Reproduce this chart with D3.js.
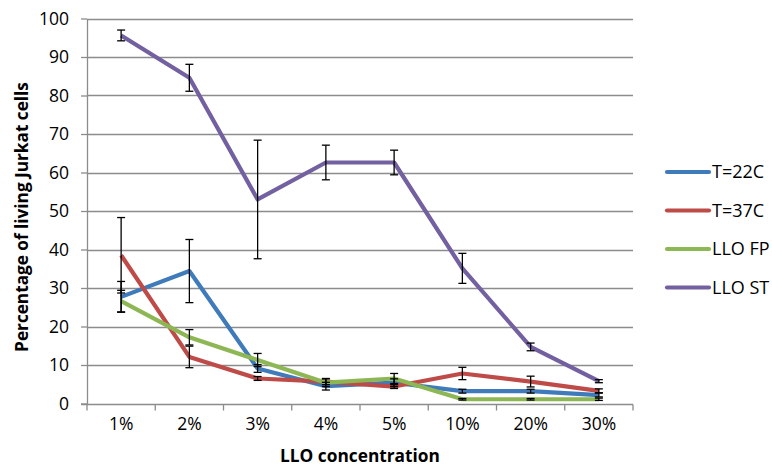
<!DOCTYPE html>
<html>
<head>
<meta charset="utf-8">
<script src="https://cdn.jsdelivr.net/npm/d3@7"></script>
<style>
  body { margin: 0; background: #fff; }
  text { font-family: "Open Sans", "Liberation Sans", sans-serif; }
</style>
</head>
<body>
<svg id="chart" width="772" height="466"></svg>
<script>
// Jurkat cell survival vs LLO concentration

const categories = ['1%', '2%', '3%', '4%', '5%', '10%', '20%', '30%'];
const seriesNames = ['T=22C', 'T=37C', 'LLO FP', 'LLO ST'];
const seriesColors = ['#3F7BBA', '#BE4B48', '#8DB654', '#7360A0'];

const t22 = [27.7, 34.4, 9.1, 4.5, 5.4, 3.2, 3.2, 2.2];
const t22Err = [4, 8.2, 1.0, 1.0, 1.0, 0.5, 0.5, 0.5];
const t37 = [38.5, 12.1, 6.5, 5.7, 4.4, 7.8, 5.7, 3.3];
const t37Err = [9.8, 2.8, 0.5, 0.8, 0.5, 1.6, 1.4, 0.5];
const lloFP = [26.6, 17.2, 11.3, 5.4, 6.5, 1.1, 1.1, 1.1];
const lloFPErr = [2.8, 2.0, 1.7, 1.0, 1.3, 0.2, 0.2, 0.3];
const lloST = [95.6, 84.6, 53.0, 62.6, 62.6, 35.1, 14.7, 5.8];
const lloSTErr = [1.4, 3.5, 15.4, 4.5, 3.2, 3.9, 1.0, 0.4];

const yTicks = [0, 10, 20, 30, 40, 50, 60, 70, 80, 90, 100];

const allValues = [t22, t37, lloFP, lloST];
const allErrors = [t22Err, t37Err, lloFPErr, lloSTErr];

const svg = d3.select('#chart');
const margin = { top: 18, left: 87, right: 139, bottom: 62 };
const width = 772, height = 466;

const x = d3.scaleBand()
    .domain(categories)
    .range([margin.left, width - margin.right]);

const y = d3.scaleLinear()
    .domain([0, 100])
    .range([height - margin.bottom - 0.5, margin.top + 0.5]);

// Gridlines
svg.append('g')
    .selectAll('line')
    .data(yTicks.filter(d => d > 0))
    .enter()
    .append('line')
    .attr('x1', margin.left)
    .attr('x2', width - margin.right)
    .attr('y1', d => Math.round(y(d)) + 0.5)
    .attr('y2', d => Math.round(y(d)) + 0.5)
    .attr('stroke', '#8c8c8c')
    .attr('stroke-width', 1.3);

// Y axis
const yAxis = svg.append('g')
    .attr('transform', `translate(${margin.left},0)`)
    .call(d3.axisLeft(y).tickValues(yTicks).tickSize(6).tickSizeOuter(0));
yAxis.select('.domain').attr('stroke', '#8c8c8c').attr('stroke-width', 1.3);
yAxis.selectAll('.tick line').attr('stroke', '#8c8c8c').attr('stroke-width', 1.3);
yAxis.selectAll('.tick text')
    .attr('x', -18)
    .attr('font-size', '17.5px')
    .attr('fill', '#000')
    .style('font-family', '"Open Sans", sans-serif');

// X axis with ticks between categories
const xAxisY = Math.round(y(0)) + 0.5;
const xg = svg.append('g');
xg.append('line')
    .attr('x1', margin.left - 6)
    .attr('x2', width - margin.right)
    .attr('y1', xAxisY)
    .attr('y2', xAxisY)
    .attr('stroke', '#8c8c8c')
    .attr('stroke-width', 1.3);
xg.selectAll('.xtick')
    .data(categories.concat(['end']))
    .enter()
    .append('line')
    .attr('x1', (d, i) => margin.left + i * x.bandwidth())
    .attr('x2', (d, i) => margin.left + i * x.bandwidth())
    .attr('y1', xAxisY)
    .attr('y2', xAxisY + 6)
    .attr('stroke', '#8c8c8c')
    .attr('stroke-width', 1.3);
xg.selectAll('.xlabel')
    .data(categories)
    .enter()
    .append('text')
    .attr('x', d => x(d) + x.bandwidth() / 2)
    .attr('y', 430)
    .attr('text-anchor', 'middle')
    .attr('font-size', '17.5px')
    .attr('fill', '#000')
    .text(d => d);

// Lines
const line = d3.line()
    .x((d, i) => x(categories[i]) + x.bandwidth() / 2)
    .y(d => y(d));

allValues.forEach((vals, s) => {
    svg.append('path')
        .datum(vals)
        .attr('d', line)
        .attr('fill', 'none')
        .attr('stroke', seriesColors[s])
        .attr('stroke-width', 4.2)
        .attr('stroke-linejoin', 'round');
});

// Error bars
allValues.forEach((vals, s) => {
    const g = svg.append('g').attr('stroke', '#000').attr('stroke-width', 1.3);
    vals.forEach((v, i) => {
        const cx = x(categories[i]) + x.bandwidth() / 2;
        const e = allErrors[s][i];
        const y1 = y(v + e), y2 = y(v - e);
        g.append('line').attr('x1', cx).attr('x2', cx).attr('y1', y1).attr('y2', y2);
        g.append('line').attr('x1', cx - 4).attr('x2', cx + 4).attr('y1', y1).attr('y2', y1);
        g.append('line').attr('x1', cx - 4).attr('x2', cx + 4).attr('y1', y2).attr('y2', y2);
    });
});

// Axis titles
svg.append('text')
    .attr('x', 360)
    .attr('y', 462)
    .attr('text-anchor', 'middle')
    .attr('font-size', '17.3px')
    .attr('font-weight', 'bold')
    .text('LLO concentration');

svg.append('text')
    .attr('transform', 'translate(28,217) rotate(-90)')
    .attr('text-anchor', 'middle')
    .attr('font-size', '17.2px')
    .attr('font-weight', 'bold')
    .text('Percentage of living Jurkat cells');

// Legend
const legend = svg.append('g');
seriesNames.forEach((name, i) => {
    const ly = 172 + i * 38.5;
    legend.append('line')
        .attr('x1', 667).attr('x2', 709)
        .attr('y1', ly).attr('y2', ly)
        .attr('stroke', seriesColors[i])
        .attr('stroke-width', 4.2)
        .attr('stroke-linecap', 'round');
    legend.append('text')
        .attr('x', 712)
        .attr('y', ly)
        .attr('dy', '0.35em')
        .attr('font-size', '18px')
        .text(name);
});
</script>
</body>
</html>
